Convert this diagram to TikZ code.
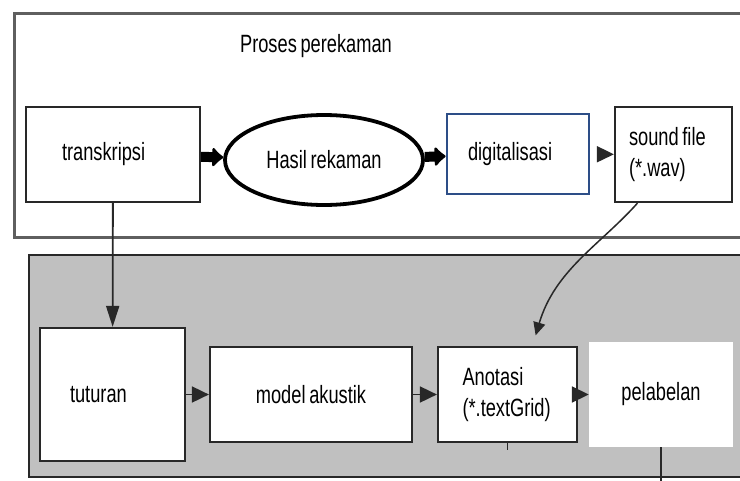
\documentclass[tikz,border=0pt]{standalone}
\usepackage{fontspec}
\setmainfont{Liberation Sans}[FakeStretch=0.73,WordSpace=0.73]
\usetikzlibrary{arrows.meta,positioning,shapes.geometric}
\definecolor{framegrey}{RGB}{95,95,95}
\definecolor{panelgrey}{RGB}{192,192,192}
\definecolor{edgedark}{RGB}{40,40,40}
\definecolor{digiblue}{RGB}{45,78,135}
\newcommand{\dgfont}{\fontsize{25}{31}\selectfont}
\tikzset{
  pbox/.style={rectangle,draw=edgedark,line width=2.2pt,fill=white,inner sep=0pt,font=\dgfont},
  digibox/.style={pbox,draw=digiblue,line width=2.8pt},
  ovalbox/.style={ellipse,draw=black,line width=3.8pt,fill=white,inner sep=0pt,font=\dgfont},
  nobox/.style={rectangle,fill=white,inner sep=0pt,font=\dgfont},
  fatflow/.style={-{Latex[length=12pt,width=24pt,round]},line width=10pt},
  flow/.style={-{Triangle[length=17pt,width=16pt]},line width=1.8pt,draw=edgedark},
  downflow/.style={-{Triangle[length=21pt,width=13pt]},line width=1.8pt,draw=edgedark},
  curveflow/.style={-{Triangle[length=13pt,width=12pt]},line width=1.5pt,draw=edgedark},
  lab/.style={font=\dgfont}
}
\begin{document}
\begin{tikzpicture}[x=1pt,y=-1pt]
  \useasboundingbox (0,0) rectangle (740,480);
  \clip (0,0) rectangle (740,480);
  \fill[white] (0,0) rectangle (740,480);
  % frames
  \draw[framegrey,line width=3pt,fill=white] (14,13) rectangle (760,237);
  \draw[edgedark,line width=2.4pt,fill=panelgrey] (29,255) rectangle (760,477);
  \node[lab] (title) at (316,46) {Proses perekaman};
  % recording row
  \node[pbox,minimum height=95pt,text width=102pt,inner xsep=36pt,align=flush left] (trans) at (113,154.5) {transkripsi};
  \node[ovalbox,minimum width=198pt,minimum height=90pt] (hasil) at (324,160) {Hasil rekaman};
  \node[digibox,minimum height=80pt,text width=100pt,inner xsep=21pt,align=flush left] (digi) at (518,154) {digitalisasi};
  \node[pbox,minimum height=95pt,text width=89pt,inner xsep=14pt,align=flush left] (snd) at (673.5,154.5) {sound file\\(*.wav)};
  % labelling row
  \node[pbox,minimum height=133pt,text width=85pt,inner xsep=30pt,align=flush left] (tutur) at (112.5,394.5) {tuturan};
  \node[pbox,minimum width=202pt,minimum height=95pt] (model) at (311,394.5) {model akustik};
  \node[pbox,minimum height=95pt,text width=90pt,inner xsep=24.5pt,align=flush left] (anot) at (507.5,394.5) {Anotasi\\(*.textGrid)};
  \node[nobox,minimum width=144pt,minimum height=105pt] (pel) at (661,394.5) {pelabelan};
  % connectors
  \draw[fatflow] (trans) -- (hasil);
  \draw[fatflow] (hasil) -- (digi);
  \draw[flow,shorten <=11pt] (digi) -- (snd);
  \draw[downflow] (trans) -- (tutur);
  \draw[flow] (tutur) -- (model);
  \draw[flow] (model) -- (anot);
  \draw[flow] (anot) -- (pel);
  \draw[curveflow,shorten >=11pt] ([xshift=-36pt]snd.south) .. controls (600,245) and (555,270) .. ([xshift=25pt]anot.north);
  \draw[edgedark,line width=1.5pt] (anot.south) -- ++(0,7);
  \draw[edgedark,line width=1.5pt] (pel.south) -- ++(0,40);
\end{tikzpicture}
\end{document}
